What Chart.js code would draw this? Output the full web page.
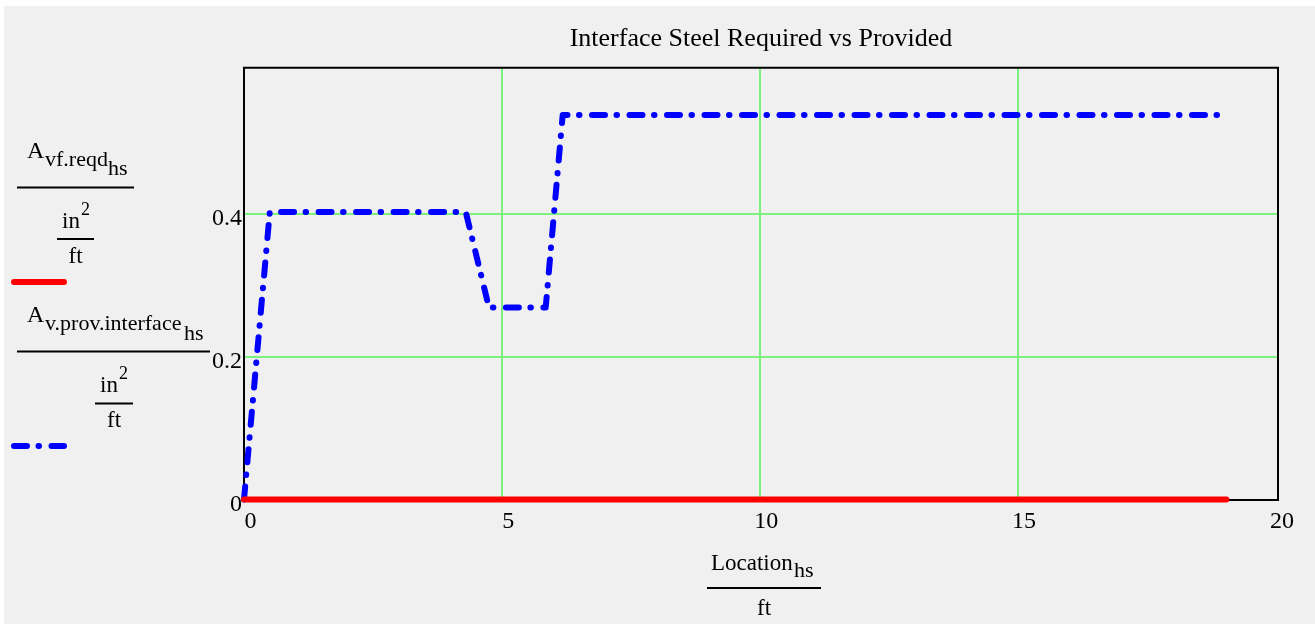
<!DOCTYPE html>
<html>
<head>
<meta charset="utf-8">
<script src="https://cdn.jsdelivr.net/npm/chart.js@4.4.0/dist/chart.umd.min.js"></script>
<style>
  html, body { margin: 0; padding: 0; background: #ffffff; }
  #wrap { position: relative; width: 1315px; height: 624px; }
</style>
</head>
<body>
<div id="wrap"><canvas id="interfaceChart"></canvas></div>
<script>
// Location along the span (ft)
var locationProvided = [0, 0.5, 4.3, 4.75, 5.85, 6.18, 19.05];
// A v.prov.interface (in^2/ft)
var areaProvided = [0, 0.403, 0.403, 0.269, 0.269, 0.539, 0.539];
// A vf.reqd (in^2/ft)
var locationRequired = [0, 19.05];
var areaRequired = [0, 0];

var xTickValues = [0, 5, 10, 15, 20];
var yTickValues = [0, 0.2, 0.4];
var yTickLabels = ['0', '0.2', '0.4'];
var xLimit = 20.05;
var yLimit = 0.605;

var serif = '"Liberation Serif", "Times New Roman", serif';
var gridGreen = '#7cf07c';
var dashDot = [13, 11.5, 0.5, 12.5];

function toPoints(xs, ys) {
    return xs.map(function (x, i) { return { x: x, y: ys[i] }; });
}

function txt(c, s, x, y, size, align) {
    c.font = size + 'px ' + serif;
    c.textAlign = align || 'left';
    c.textBaseline = 'alphabetic';
    c.fillText(s, x, y);
}

function bar(c, x0, x1, y) {
    c.beginPath();
    c.moveTo(x0, y);
    c.lineTo(x1, y);
    c.stroke();
}

// fondo, marco y etiquetas tipo Mathcad
var mathcadPlugin = {
    id: 'mathcadFrame',
    beforeDraw: function (chart) {
        var c = chart.ctx;
        c.save();
        c.fillStyle = '#ffffff';
        c.fillRect(0, 0, chart.width, chart.height);
        c.fillStyle = '#f0f0f0';
        c.fillRect(4, 6, chart.width - 4, chart.height - 6);
        c.restore();
    },
    beforeDatasetsDraw: function (chart) {
        var a = chart.chartArea, c = chart.ctx;
        c.save();
        c.strokeStyle = '#000000';
        c.lineWidth = 2;
        c.beginPath();
        c.moveTo(a.left - 1, a.top);
        c.lineTo(a.right, a.top);
        c.lineTo(a.right, a.bottom + 1);
        c.stroke();
        c.restore();
    },
    afterDraw: function (chart) {
        var c = chart.ctx;
        c.save();
        c.fillStyle = '#000000';
        c.strokeStyle = '#000000';
        c.lineWidth = 2;

        // first legend entry
        txt(c, 'A', 27, 158, 24);
        txt(c, 'vf.reqd', 45, 166, 22);
        txt(c, 'hs', 108, 175, 22);
        bar(c, 17, 134, 187.5);
        txt(c, 'in', 62, 228, 23);
        txt(c, '2', 81, 215, 18);
        bar(c, 57, 94, 239);
        txt(c, 'ft', 75.5, 263, 23, 'center');

        // second legend entry
        txt(c, 'A', 27, 322, 24);
        txt(c, 'v.prov.interface', 45, 330, 22);
        txt(c, 'hs', 184, 340, 22);
        bar(c, 17, 210, 351.5);
        txt(c, 'in', 100, 392, 23);
        txt(c, '2', 119, 379, 18);
        bar(c, 95, 133, 403.5);
        txt(c, 'ft', 114, 427, 23, 'center');

        // x axis label
        txt(c, 'Location', 711, 570, 23);
        txt(c, 'hs', 794, 577, 22);
        bar(c, 707, 821, 588);
        txt(c, 'ft', 764, 615, 23, 'center');

        // legend line samples
        c.lineCap = 'round';
        c.lineWidth = 6;
        c.strokeStyle = '#ff0000';
        bar(c, 14, 64, 282);
        c.strokeStyle = '#0000ff';
        c.setLineDash(dashDot);
        bar(c, 14, 64, 446);
        c.restore();
    }
};

function gridColor(values) {
    var first = values[0], last = values[values.length - 1];
    return function (ctx) {
        var v = ctx.tick ? ctx.tick.value : 0;
        return (v > first && v < last) ? gridGreen : 'rgba(0,0,0,0)';
    };
}

var ctx = document.getElementById('interfaceChart').getContext('2d');

var interfaceChart = new Chart(ctx, {
    type: 'line',
    data: {
        datasets: [{
            label: 'A vf.reqd',
            data: toPoints(locationRequired, areaRequired),
            borderColor: '#ff0000',
            borderWidth: 6,
            borderCapStyle: 'round',
            pointRadius: 0,
            tension: 0,
            fill: false,
            clip: 6
        }, {
            label: 'A v.prov.interface',
            data: toPoints(locationProvided, areaProvided),
            borderColor: '#0000ff',
            borderWidth: 6,
            borderDash: dashDot,
            borderCapStyle: 'round',
            borderJoinStyle: 'round',
            pointRadius: 0,
            tension: 0,
            fill: false,
            clip: 6
        }]
    },
    options: {
        responsive: true,
        maintainAspectRatio: false,
        animation: false,
        layout: { padding: { left: 184, right: 37, top: 0, bottom: 0 } },
        plugins: {
            legend: { display: false },
            tooltip: { enabled: false },
            title: {
                display: true,
                fullSize: false,
                text: 'Interface Steel Required vs Provided',
                color: '#000000',
                font: { family: serif, size: 26, weight: 'normal', lineHeight: 1.2 },
                padding: { top: 24, bottom: 12.6 }
            }
        },
        scales: {
            x: {
                type: 'linear',
                min: 0,
                max: xLimit,
                afterFit: function (s) { s.height = 124.5; },
                afterBuildTicks: function (s) {
                    s.ticks = xTickValues.map(function (v) { return { value: v }; });
                },
                ticks: {
                    color: '#000000',
                    font: { family: serif, size: 24 },
                    padding: 8,
                    labelOffset: 6.5,
                    maxRotation: 0,
                    autoSkip: false
                },
                grid: { color: gridColor(xTickValues), lineWidth: 2, drawTicks: false },
                border: { color: '#000000', width: 2 }
            },
            y: {
                min: 0,
                max: yLimit,
                afterFit: function (s) { s.width = 60; },
                afterBuildTicks: function (s) {
                    s.ticks = yTickValues.map(function (v) { return { value: v }; });
                },
                ticks: {
                    color: '#000000',
                    font: { family: serif, size: 24 },
                    padding: 2,
                    labelOffset: 5,
                    autoSkip: false,
                    callback: function (value, index) { return yTickLabels[index]; }
                },
                grid: { color: gridColor(yTickValues.concat([yLimit])), lineWidth: 2, drawTicks: false },
                border: { color: '#000000', width: 2 }
            }
        }
    },
    plugins: [mathcadPlugin]
});
</script>
</body>
</html>
